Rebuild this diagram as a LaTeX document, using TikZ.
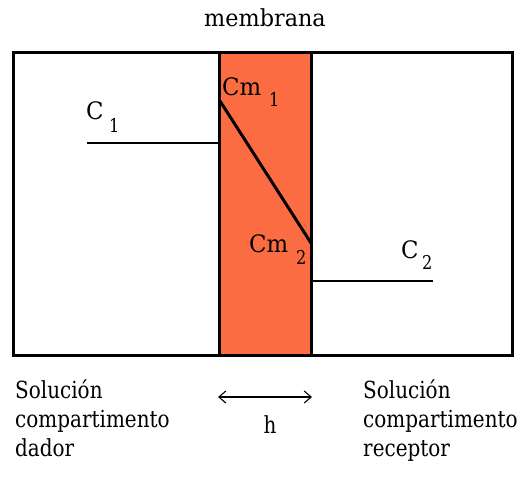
\documentclass[tikz,border=0pt]{standalone}
\usepackage{fontspec}
\setmainfont{Liberation Serif}
\newfontfamily\dvs[FakeStretch=0.85]{DejaVu Serif}
\newfontfamily\dvt[FakeStretch=0.95]{DejaVu Serif}
\usetikzlibrary{arrows.meta}
\definecolor{membfill}{RGB}{252,108,66}
\tikzset{
  txt/.style={inner sep=0pt, anchor=base west, font=\dvs\fontsize{23.5}{28}\selectfont},
  lbl/.style={inner sep=0pt, anchor=base west, font=\dvt\fontsize{24}{28}\selectfont},
  sub/.style={inner sep=0pt, anchor=base west, font=\dvs\fontsize{19}{22}\selectfont},
  boxline/.style={line width=3pt},
  level/.style={line width=1.5pt},
  grad/.style={line width=3pt},
}
\begin{document}
\begin{tikzpicture}[x=1pt,y=-1pt]
\useasboundingbox (0,0) rectangle (522,479);
% outer compartment box
\draw[boxline] (13,52) rectangle (512,355);
% membrane
\draw[boxline, fill=membfill] (219,52) rectangle (311,355);
% concentration levels
\coordinate (c1s) at (87,143);
\coordinate (c1e) at (219,143);
\coordinate (c2s) at (311,281);
\coordinate (c2e) at (433,281);
\draw[level] (c1s) -- (c1e);
\draw[level] (c2s) -- (c2e);
% gradient in membrane
\coordinate (g1) at (220,101);
\coordinate (g2) at (311,243);
\draw[grad] (g1) -- (g2);
% title
\node[inner sep=0pt, anchor=base, font=\dvt\fontsize{23.5}{28}\selectfont] (title) at (265,27) {membrana};
% labels
\node[lbl] (C1) at (86,119) {C};
\node[sub] (C1s) at (109,132) {1};
\node[lbl] (C2) at (401,258) {C};
\node[sub] (C2s) at (422,269) {2};
\node[lbl] (Cm1) at (222,95) {Cm};
\node[sub] (Cm1s) at (269,106) {1};
\node[lbl] (Cm2) at (249,252) {Cm};
\node[sub] (Cm2s) at (296,264) {2};
% bottom texts
\node[txt] (l1) at (15,398) {Solución};
\node[txt] (l2) at (15,427) {compartimento};
\node[txt] (l3) at (15,456) {dador};
\node[txt] (r1) at (363,398) {Solución};
\node[txt] (r2) at (363,427) {compartimento};
\node[txt] (r3) at (363,456) {receptor};
% thickness arrow
\coordinate (ha) at (218,397);
\coordinate (hb) at (312,397);
\draw[line width=1.1pt, {Straight Barb[length=7pt,width=12pt]}-{Straight Barb[length=7pt,width=12pt]}] (ha) -- (hb);
\node[txt, anchor=base] (h) at (270,433) {h};
\end{tikzpicture}
\end{document}
